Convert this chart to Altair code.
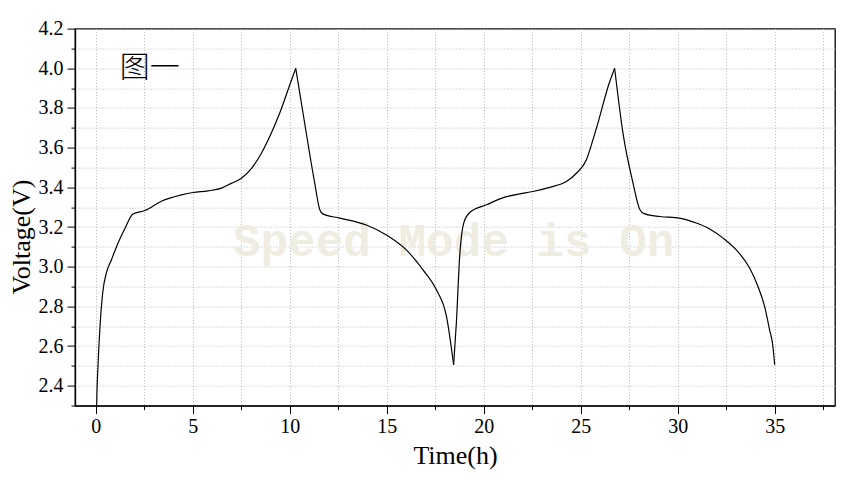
import altair as alt
import pandas as pd

# Battery charge/discharge curve
time_h = [0.04, 0.05, 0.12, 0.22, 0.36, 0.55, 0.81, 1.15, 1.49, 1.92, 2.53, 3.38, 4.42,
          5.02, 5.79, 6.48, 6.99, 7.51, 8.03, 8.54, 8.97, 9.48, 10.0, 10.31,
          10.31, 10.77, 11.29, 11.55, 11.72, 12.58, 13.95, 14.98, 16.01, 16.87, 17.56, 18.08, 18.45,
          18.45, 18.59, 18.76, 18.97, 19.28, 20.14, 21.17, 21.86, 22.54, 23.40, 24.26, 24.78,
          25.29, 25.63, 25.98, 26.41, 26.75,
          26.75, 27.18, 27.70, 28.04, 28.30, 29.07, 30.10,
          30.96, 31.65, 32.34, 33.02, 33.71, 34.14, 34.48, 34.74, 34.91, 35.0]
voltage = [2.25, 2.31, 2.51, 2.70, 2.87, 2.97, 3.035, 3.12, 3.19, 3.266, 3.283, 3.33, 3.362,
           3.374, 3.382, 3.396, 3.42, 3.446, 3.496, 3.572, 3.656, 3.773, 3.916, 4.0,
           4.0, 3.723, 3.42, 3.287, 3.265, 3.245, 3.21, 3.16, 3.085, 2.984, 2.884, 2.75, 2.506,
           2.506, 2.716, 3.05, 3.22, 3.273, 3.312, 3.353, 3.367, 3.379, 3.40, 3.429, 3.471,
           3.538, 3.639, 3.756, 3.907, 4.0,
           4.0, 3.673, 3.42, 3.29, 3.266, 3.253, 3.245,
           3.22, 3.19, 3.144, 3.085, 2.993, 2.90, 2.80, 2.682, 2.598, 2.506]
# which charge / discharge stage each point belongs to
stage = (["charge 1"] * 24 + ["discharge 1"] * 13 + ["charge 2"] * 17
         + ["discharge 2"] * 17)

x_ticks = [i * 2.5 for i in range(16)]                  # 0 .. 37.5
y_ticks = [round(2.3 + 0.1 * i, 1) for i in range(20)]  # 2.3 .. 4.2

label_text = ["图一"]
label_t = [1.24]
label_v = [4.0]

watermark_text = ["Speed Mode is On"]
watermark_t = [18.45]
watermark_v = [3.125]

df = pd.DataFrame({"t": time_h, "V": voltage, "stage": stage})
df_label = pd.DataFrame({"t": label_t, "V": label_v, "txt": label_text})
df_wm = pd.DataFrame({"t": watermark_t, "V": watermark_v, "txt": watermark_text})

SERIF = "Liberation Serif"

xscale = alt.Scale(domain=[-1.07, 38.11], nice=False, zero=False)
yscale = alt.Scale(domain=[2.3, 4.2], nice=False, zero=False)

xaxis = alt.Axis(
    values=x_ticks,
    title="Time(h)",
    labelExpr="datum.value % 5 == 0 ? format(datum.value, 'd') : ''",
    tickSize={"condition": {"test": "datum.value % 5 == 0", "value": 8}, "value": 4},
    labelFont=SERIF, labelFontSize=20, labelColor="black",
    labelPadding=3,
    titleFont=SERIF, titleFontSize=26,
    titleY=58,
    titleBaseline="alphabetic",
)
yaxis = alt.Axis(
    values=y_ticks,
    title="Voltage(V)",
    labelExpr="round(datum.value * 10) % 2 == 0 ? format(datum.value, '.1f') : ''",
    tickSize={"condition": {"test": "round(datum.value * 10) % 2 == 0", "value": 8}, "value": 4},
    labelFont=SERIF, labelFontSize=20, labelColor="black",
    labelPadding=4,
    titleFont=SERIF, titleFontSize=26,
    titleX=-46,
    titleY=208,
    titleAngle=270,
    titleBaseline="alphabetic",
)

X = alt.X("t:Q", scale=xscale, axis=xaxis)
Y = alt.Y("V:Q", scale=yscale, axis=yaxis)

watermark = alt.Chart(df_wm).mark_text(
    font="Liberation Mono", fontSize=46, fontWeight="bold", color="#efede2",
    align="center", baseline="middle"
).encode(x=X, y=Y, text="txt:N")

line = alt.Chart(df).mark_line(
    color="black", strokeWidth=1.2, clip=True, interpolate="monotone"
).encode(x=X, y=Y, detail="stage:N", order="t:Q")

label = alt.Chart(df_label).mark_text(
    font="Noto Sans CJK SC", fontSize=30, fontWeight=300, color="black",
    align="left", baseline="middle"
).encode(x=X, y=Y, text="txt:N")

chart = alt.layer(watermark, line, label).properties(
    width=760, height=377,
    autosize=alt.AutoSizeParams(type="none"),
    padding={"left": 67, "top": 20.6, "right": 12, "bottom": 65},
    background="white",
).configure_view(
    stroke="black", strokeWidth=1.3
).configure_axis(
    domainColor="black", domainWidth=1.3,
    tickColor="black", tickWidth=1,
    labelColor="black", titleColor="black",
    labelFont=SERIF, titleFont=SERIF,
    labelFontSize=20, titleFontSize=26, titleFontWeight="normal",
    grid=True, gridColor="#b8b8b8", gridDash=[1, 2], gridWidth=1,
)

chart.save("out.html", embed_options={"renderer": "svg", "actions": False})
